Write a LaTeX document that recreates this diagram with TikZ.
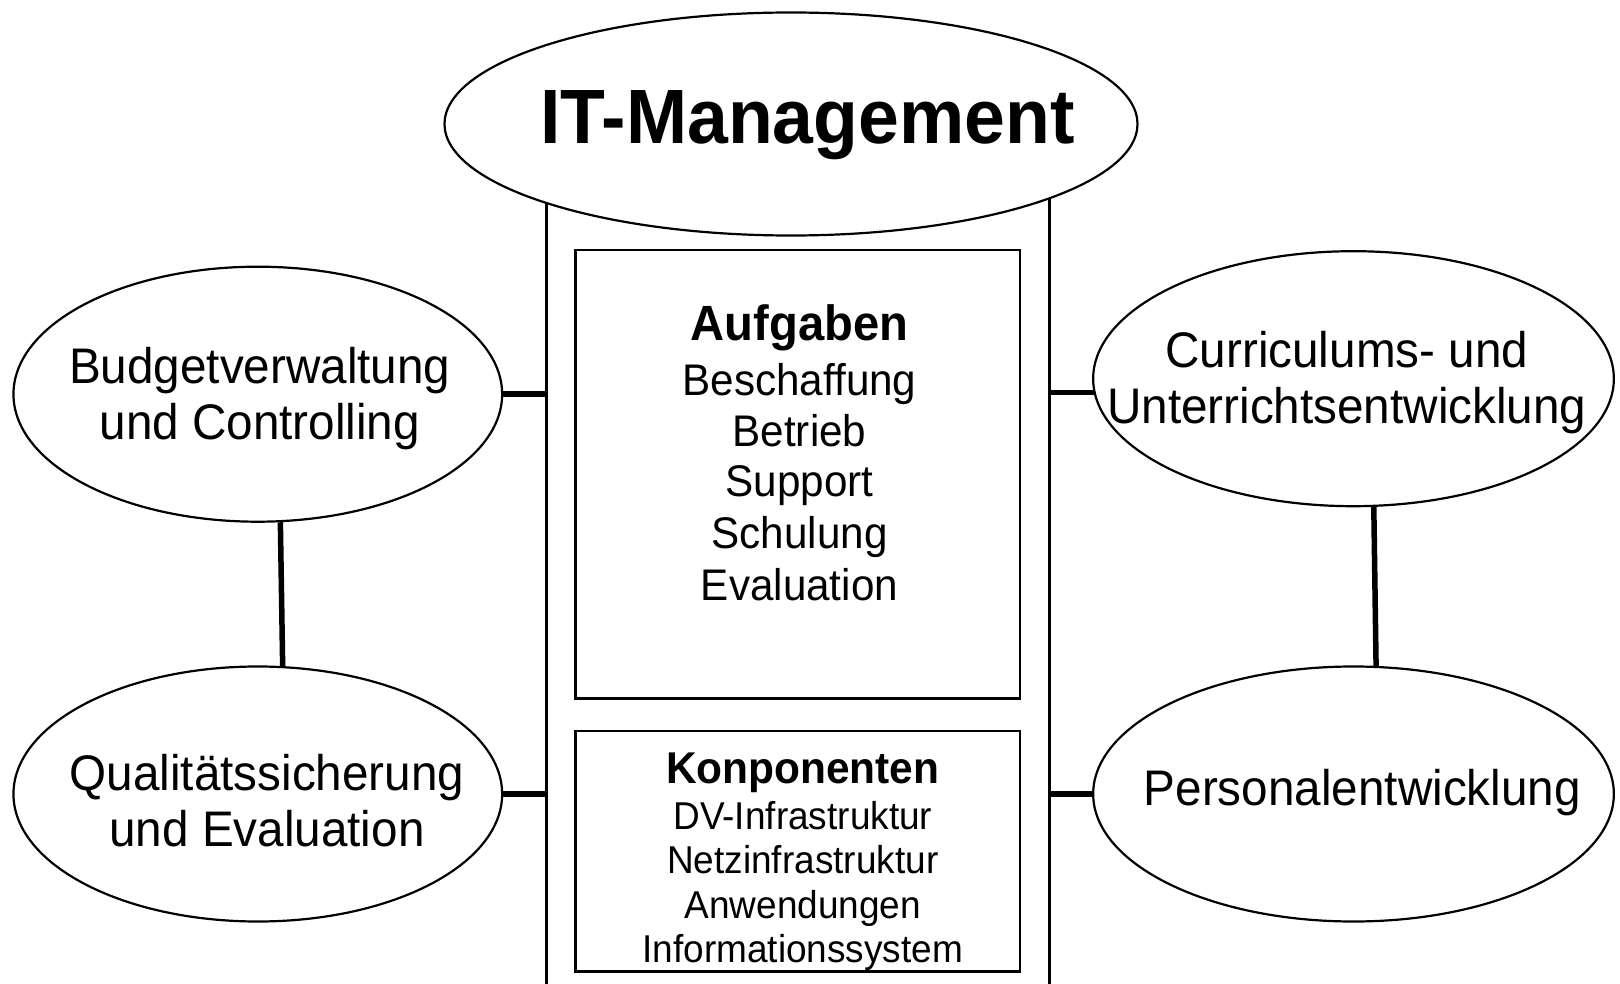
\documentclass[tikz,border=0pt]{standalone}
\usepackage{fontspec}
\setmainfont{Liberation Sans}[FakeStretch=0.953]
\usetikzlibrary{shapes.geometric}
\begin{document}
\begin{tikzpicture}[x=1pt,y=-1pt,
  oval/.style={ellipse, draw, line width=2.2pt, fill=white, inner sep=0pt},
  conn/.style={line width=5.5pt},
  box/.style={draw, line width=2.3pt, inner sep=0pt},
  lbl/.style={anchor=base, inner sep=0pt},
  big/.style={font=\fontsize{50}{50}\selectfont},
  item/.style={font=\fontsize{44.3}{44.3}\selectfont},
  small/.style={font=\fontsize{38.8}{38.8}\selectfont},
]
\useasboundingbox (0,0) rectangle (1620,984);
\clip (0,0) rectangle (1620,984);
% central column and boxes
\node[box, minimum width=503pt, minimum height=900pt] (main) at (798.1,600) {};
\node[box, minimum width=444.3pt, minimum height=448.4pt] (aufg) at (797.65,474.2) {};
\node[box, minimum width=444.3pt, minimum height=240.7pt] (komp) at (797.65,851.1) {};
% ellipses
\node[oval, minimum width=693pt, minimum height=223pt] (it) at (791,124) {};
\node[oval, minimum width=488.7pt, minimum height=255pt] (budget) at (257.8,394.2) {};
\node[oval, minimum width=488.7pt, minimum height=255pt] (qual) at (257.8,794) {};
\node[oval, minimum width=520.7pt, minimum height=255pt] (curric) at (1353.5,378.7) {};
\node[oval, minimum width=520.7pt, minimum height=255pt] (personal) at (1353.5,794) {};
% connectors
\draw[conn] (budget.east |- 0,394) -- (main.west |- 0,394);
\draw[conn] (qual.east |- 0,794) -- (main.west |- 0,794);
\draw[conn] (curric.183.4) -- (curric.183.4 -| main.east);
\draw[conn] (personal.west |- 0,794) -- (main.east |- 0,794);
\draw[conn] (budget.280.3) -- (qual.79.7);
\draw[conn] (curric.279.16) -- (personal.80.84);
% texts
\node[lbl, font=\fontsize{77}{77}\selectfont\bfseries] (itt) at (807.5,143.3) {IT-Management};
\node[lbl, big] (b1) at (259.8,383) {Budgetverwaltung};
\node[lbl, big] (b2) at (259.8,439.5) {und Controlling};
\node[lbl, big] (q1) at (267,790) {Qualitätssicherung};
\node[lbl, big] (q2) at (267,846) {und Evaluation};
\node[lbl, big] (c1) at (1346.8,367) {Curriculums- und};
\node[lbl, big] (c2) at (1346.8,423) {Unterrichtsentwicklung};
\node[lbl, big] (p1) at (1362.3,805) {Personalentwicklung};
\node[lbl, font=\fontsize{49.5}{49.5}\selectfont\bfseries] (a0) at (799.5,341) {Aufgaben};
\node[lbl, item] (a1) at (799.5,395) {Beschaffung};
\node[lbl, item] (a2) at (799.5,446) {Betrieb};
\node[lbl, item] (a3) at (799.5,496) {Support};
\node[lbl, item] (a4) at (799.5,548) {Schulung};
\node[lbl, item] (a5) at (799.5,600) {Evaluation};
\node[lbl, font=\fontsize{44.5}{44.5}\selectfont\bfseries] (k0) at (802.8,783.6) {Konponenten};
\node[lbl, small] (k1) at (802.8,829) {DV-Infrastruktur};
\node[lbl, small] (k2) at (802.8,873.5) {Netzinfrastruktur};
\node[lbl, small] (k3) at (802.8,918) {Anwendungen};
\node[lbl, small] (k4) at (802.8,962.4) {Informationssystem};
\end{tikzpicture}
\end{document}
